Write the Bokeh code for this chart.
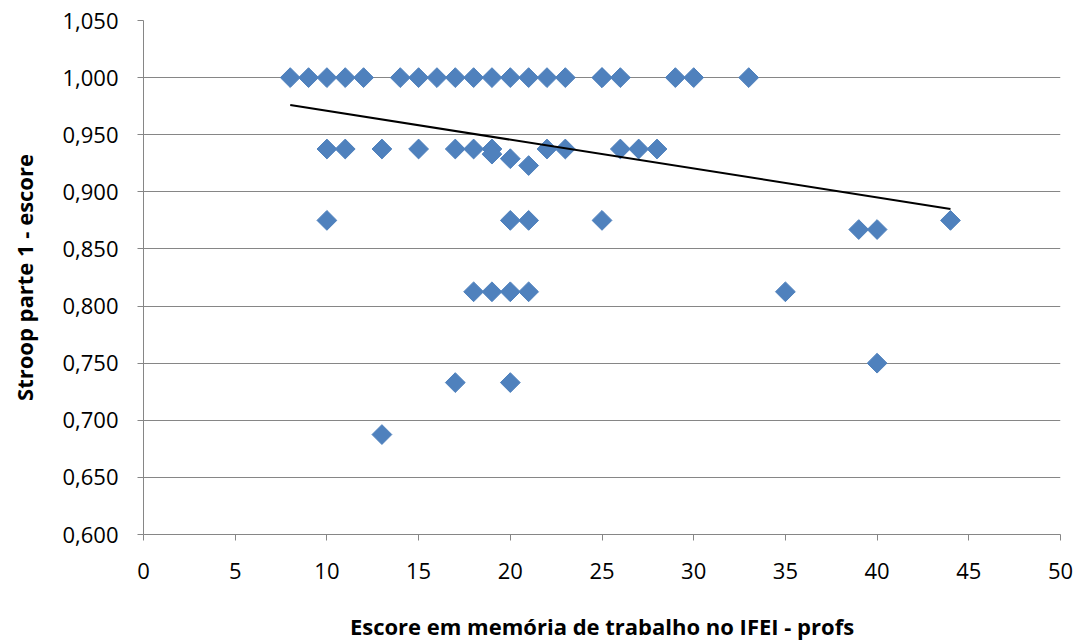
import math
from bokeh.plotting import figure
from bokeh.models import FixedTicker, Range1d, ColumnDataSource
from bokeh.embed import file_html
from bokeh.resources import INLINE

# Working-memory score (IFEI) vs Stroop part 1 score
memoria = [8, 9, 10, 11, 12, 14, 15, 16, 17, 18, 19, 20, 21, 22, 23, 25, 25, 26, 29, 30, 33,
           10, 11, 13, 15, 17, 18, 19, 19, 20, 21, 22, 23, 26, 27, 28,
           10, 20, 21, 25, 44,
           39, 40,
           18, 19, 20, 21, 35,
           17, 20, 40,
           13]
stroop = [1.0] * 21 + \
         [0.9375, 0.9375, 0.9375, 0.9375, 0.9375, 0.9375, 0.9375, 0.933, 0.929, 0.923, 0.9375, 0.9375, 0.9375, 0.9375, 0.9375] + \
         [0.875, 0.875, 0.875, 0.875, 0.875] + \
         [0.867, 0.867] + \
         [0.8125, 0.8125, 0.8125, 0.8125, 0.8125] + \
         [0.733, 0.733, 0.75] + \
         [0.6875]

# Linear trend line end points
trend_x = [8, 44]
trend_y = [0.976, 0.885]

x_ticks = [0, 5, 10, 15, 20, 25, 30, 35, 40, 45, 50]
y_ticks = [0.600, 0.650, 0.700, 0.750, 0.800, 0.850, 0.900, 0.950, 1.000, 1.050]
y_labels = ["0,600", "0,650", "0,700", "0,750", "0,800", "0,850", "0,900", "0,950", "1,000", "1,050"]

FONT = "Open Sans"
GRAY = "#868686"

p = figure(width=1085, height=643, output_backend="svg", toolbar_location=None,
           x_range=Range1d(0, 50), y_range=Range1d(0.6, 1.05),
           min_border_left=143, min_border_right=25, min_border_top=20, min_border_bottom=108)
p.outline_line_color = None
p.background_fill_color = "white"
p.border_fill_color = "white"

p.xgrid.grid_line_color = None
p.ygrid.grid_line_color = GRAY
p.ygrid.grid_line_width = 1

p.xaxis.ticker = FixedTicker(ticks=x_ticks)
p.yaxis.ticker = FixedTicker(ticks=y_ticks)
p.yaxis.major_label_overrides = {t: l for t, l in zip(y_ticks, y_labels)}
p.xaxis.major_label_overrides = {t: str(t) for t in x_ticks}

for ax in (p.xaxis[0], p.yaxis[0]):
    ax.axis_line_color = GRAY
    ax.axis_line_width = 1
    ax.major_tick_line_color = GRAY
    ax.major_tick_in = 0
    ax.major_tick_out = 6
    ax.minor_tick_line_color = None
    ax.major_label_text_font = FONT
    ax.major_label_text_font_size = "22px"
    ax.major_label_text_color = "#000000"
    ax.axis_label_text_font = FONT
    ax.axis_label_text_font_style = "bold"
    ax.axis_label_text_font_size = "22px"
    ax.axis_label_text_color = "#000000"

p.xaxis.major_label_standoff = 22
p.yaxis.major_label_standoff = 19
p.xaxis.axis_label = "Escore em memória de trabalho no IFEI - profs"
p.yaxis.axis_label = "Stroop parte 1 - escore"
p.xaxis.axis_label_standoff = 29
p.yaxis.axis_label_standoff = 20

src = ColumnDataSource(dict(x=memoria, y=stroop))
p.scatter("x", "y", source=src, marker="square", size=14, angle=math.pi / 4,
          fill_color="#4F81BD", line_color="#4F81BD")

p.line(trend_x, trend_y, line_color="black", line_width=2)

open("out.html", "w").write(file_html(p, INLINE))
